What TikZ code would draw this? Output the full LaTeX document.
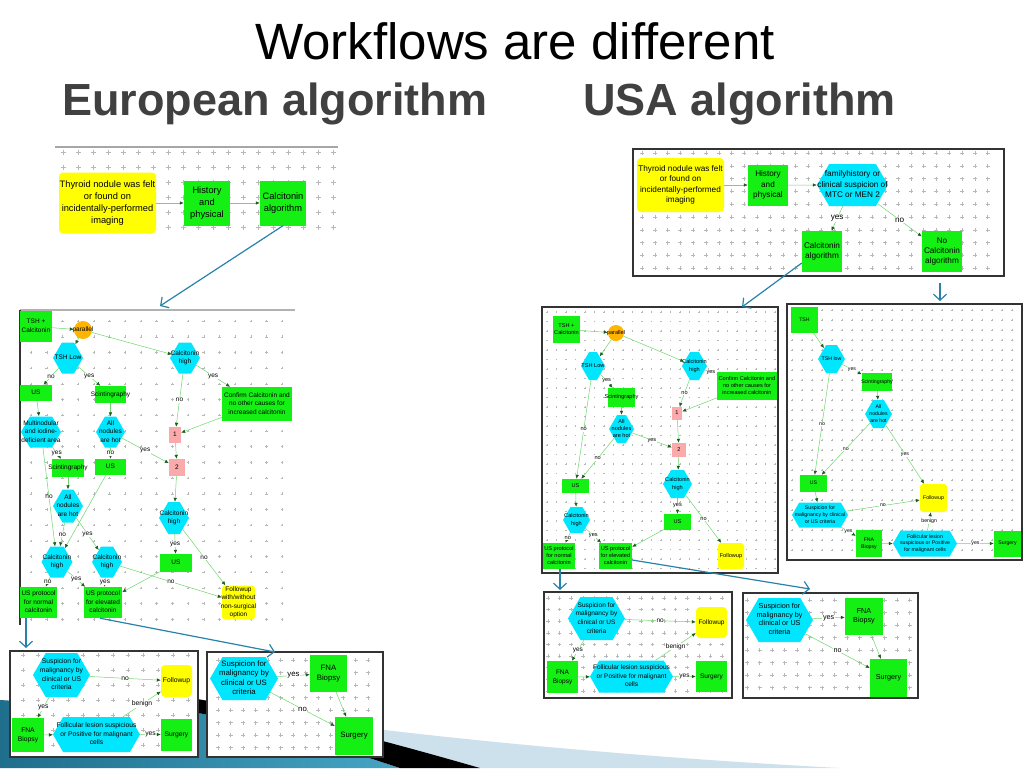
\documentclass[tikz,border=0pt]{standalone}
\usepackage{fontspec}
\setmainfont{Liberation Sans}
\usetikzlibrary{arrows.meta,shapes.symbols}

\definecolor{boxgreen}{RGB}{20,240,20}
\definecolor{boxyellow}{RGB}{255,255,0}
\definecolor{hexcyan}{RGB}{0,230,255}
\definecolor{pinkbox}{RGB}{250,170,170}
\definecolor{parorange}{RGB}{255,180,0}
\definecolor{flowgreen}{RGB}{110,215,110}
\definecolor{tipgreen}{RGB}{30,90,30}
\definecolor{linkblue}{RGB}{40,130,170}
\definecolor{subgray}{RGB}{64,64,64}
\definecolor{swteal}{RGB}{30,110,140}
\definecolor{swtealb}{RGB}{70,165,195}
\definecolor{swlight}{RGB}{205,225,236}

% text of a fixed-size node, may run over its edges
\newcommand{\ntext}[1]{\makebox[0pt]{\begin{tabular}{@{}c@{}}#1\end{tabular}}}
% light plus marks of the editor grid
\newcommand{\plusgrid}[6]{%
  \pgfmathtruncatemacro\gridnx{(#3-#1)/#5}%
  \pgfmathtruncatemacro\gridny{(#4-#2)/#5}%
  \foreach \i in {0,...,\gridnx}{\foreach \j in {0,...,\gridny}{%
    \draw[gridmark] ({#1+\i*#5-#6/2},{#2+\j*#5}) -- ++(#6,0)
      ({#1+\i*#5},{#2+\j*#5-#6/2}) -- ++(0,#6);}}}

\tikzset{
  wh/.style 2 args={minimum width=#1, minimum height=#2},
  gbox/.style={fill=boxgreen, inner sep=0},
  ybox/.style={fill=boxyellow, rounded corners=4, inner sep=0},
  hexa/.style={signal, signal to=east and west, signal pointer angle=120, fill=hexcyan, inner sep=0},
  pbox/.style={fill=pinkbox, inner sep=0},
  pcirc/.style={circle, fill=parorange, inner sep=0},
  flow/.style={draw=flowgreen, line width=0.5, -{Latex[length=4,width=3.5,color=tipgreen]}},
  lbl/.style={fill=white, inner sep=0.6},
  link/.style={draw=linkblue, line width=1.2, -{Straight Barb[length=6,width=13]}},
  frame/.style={draw=black!80, line width=1.4, fill=white},
  gridmark/.style={draw=black!28, line width=0.4},
  fA/.style={font=\fontsize{9.3}{12}\selectfont},
  fB/.style={font=\fontsize{6.5}{8.5}\selectfont},
  fC/.style={font=\fontsize{6.75}{8.7}\selectfont},
  fD/.style={font=\fontsize{7.8}{9.5}\selectfont},
  fE/.style={font=\fontsize{8.2}{10.3}\selectfont},
  fF/.style={font=\fontsize{5.6}{7.2}\selectfont},
  fG/.style={font=\fontsize{5.2}{6.7}\selectfont},
  fH/.style={font=\fontsize{6.5}{8.6}\selectfont},
  fI/.style={font=\fontsize{7.2}{8.5}\selectfont},
}

\begin{document}
\begin{tikzpicture}[x=1pt,y=-1pt]
  \useasboundingbox[fill=white] (0,0) rectangle (1024,768);

  % slide swoosh
  \fill[swlight] (290,718) .. controls (450,740) and (650,758) .. (840,768) -- (480,768)
    .. controls (400,745) and (330,728) .. (290,721) -- cycle;
  \shade[left color=swteal, right color=swtealb] (0,700) -- (185,711)
    .. controls (260,722) and (330,745) .. (400,768) -- (0,768) -- cycle;
  \fill[black] (185,697) .. controls (280,712) and (400,745) .. (480,768) -- (400,768)
    .. controls (330,745) and (260,722) .. (185,711) -- cycle;

  % titles
  \node[font=\fontsize{51}{60}\selectfont, inner sep=0] (title) at (515,41) {Workflows are different};
  \node[font=\fontsize{45}{54}\selectfont\bfseries, text=subgray, anchor=base west, inner sep=0] (eutitle) at (62,115) {European algorithm};
  \node[font=\fontsize{45}{54}\selectfont\bfseries, text=subgray, anchor=base west, inner sep=0] (ustitle) at (583,115) {USA algorithm};

  % panel frames and grids
  \draw[gray!70, line width=1.5] (55,147) -- (338,147);
  \plusgrid{63}{152}{338}{228}{15}{5}
  \plusgrid{31}{321}{295}{622}{15.7}{2.5}
  \draw[gray!60, line width=1.5] (20,310) -- (295,310);
  \draw[black!80, line width=1.2] (20,310) -- (20,625);
  \draw[frame] (10,651) rectangle (198,757);
  \plusgrid{23}{655}{196}{755}{15}{4}
  \draw[frame] (207,652) rectangle (383,757);
  \plusgrid{218}{660}{380}{755}{12.5}{4}
  \draw[frame] (633,149) rectangle (1004,276);
  \plusgrid{642}{153}{1000}{272}{12.8}{4}
  \draw[frame] (542,307) rectangle (778,573);
  \plusgrid{547}{312}{775}{570}{9.5}{1.5}
  \draw[frame] (787,304) rectangle (1022,560);
  \plusgrid{792}{310}{1020}{557}{10}{1.5}
  \draw[frame] (544,592) rectangle (732,698);
  \plusgrid{548}{598}{730}{695}{11.6}{3.5}
  \draw[frame] (743,593) rectangle (918,698);
  \plusgrid{747}{600}{915}{695}{12.5}{4}

  % European: start
  \begin{scope}[every node/.append style=fA]
    \node[ybox, wh={97}{61}] (yA) at (107.5,203) {\ntext{Thyroid nodule was felt\\or found on\\incidentally-performed\\imaging}};
    \node[gbox, wh={46}{45}] (hpA) at (207,203) {\ntext{History\\and\\physical}};
    \node[gbox, wh={46}{45}] (calA) at (283,203) {\ntext{Calcitonin\\algorithm}};
    \draw[flow] (yA) -- (hpA);
    \draw[flow] (hpA) -- (calA);
  \end{scope}

  % European: calcitonin algorithm
  \begin{scope}[every node/.append style=fB]
    \node[gbox, wh={32}{31}] (tcB) at (36,326.5) {\ntext{TSH +\\Calcitonin}};
    \node[pcirc, minimum size=18] (parB) at (83,330) {\ntext{parallel}};
    \node[hexa, wh={30}{31}] (tlB) at (68,358) {\ntext{TSH Low}};
    \node[hexa, wh={30}{31}] (chB) at (185,358) {\ntext{Calcitonin\\high}};
    \node[gbox, wh={32}{16}] (usB1) at (36,393) {\ntext{US}};
    \node[gbox, wh={31}{17}] (scB1) at (110.5,394.5) {\ntext{Scintingraphy}};
    \node[gbox, wh={70}{34}] (cfB) at (257,404) {\ntext{Confirm Calcitonin and\\no other causes for\\increased calcitonin}};
    \node[pbox, wh={12}{16}] (p1B) at (175,435) {\ntext{1}};
    \node[hexa, wh={40}{31}] (mnB) at (41,432) {\ntext{Multinodular\\and iodine-\\deficient area}};
    \node[hexa, wh={29}{31}] (anB1) at (110.5,432) {\ntext{All\\nodules\\are hot}};
    \node[pbox, wh={16}{17}] (p2B) at (177,467.5) {\ntext{2}};
    \node[gbox, wh={32}{18}] (scB2) at (68,468) {\ntext{Scintingraphy}};
    \node[gbox, wh={31}{16}] (usB2) at (110.5,467) {\ntext{US}};
    \node[hexa, wh={30}{33}] (anB2) at (68,506) {\ntext{All\\nodules\\are hot}};
    \node[hexa, wh={30}{32}] (chB2) at (174,518) {\ntext{Calcitonin\\high}};
    \node[hexa, wh={31}{31}] (chB3) at (57,562) {\ntext{Calcitonin\\high}};
    \node[hexa, wh={30}{31}] (chB4) at (107,562) {\ntext{Calcitonin\\high}};
    \node[gbox, wh={32}{18}] (usB3) at (176,563) {\ntext{US}};
    \node[ybox, rounded corners=3, wh={33}{33}] (fuB) at (238.5,602.5) {\ntext{Followup\\with/without\\non-surgical\\option}};
    \node[gbox, wh={37}{31}] (upnB) at (38.5,602.5) {\ntext{US protocol\\for normal\\calcitonin}};
    \node[gbox, wh={38}{31}] (upeB) at (103,602.5) {\ntext{US protocol\\for elevated\\calcitonin}};
    \draw[flow] (tcB) -- (parB);
    \draw[flow] (parB) -- (tlB);
    \draw[flow] (parB) -- (chB);
    \draw[flow] (tlB) -- node[lbl]{no} (usB1);
    \draw[flow] (tlB) -- node[lbl]{yes} (scB1);
    \draw[flow] (chB) -- node[lbl]{yes} (cfB);
    \draw[flow] (chB) -- node[lbl]{no} (p1B);
    \draw[flow] (cfB) -- (p1B);
    \draw[flow] (usB1) -- (mnB);
    \draw[flow] (scB1) -- (anB1);
    \draw[flow] (mnB) -- node[lbl]{yes} (scB2);
    \draw[flow] (anB1) -- node[lbl]{no} (usB2);
    \draw[flow] (anB1) -- node[lbl]{yes} (p2B);
    \draw[flow] (p1B) -- (p2B);
    \draw[flow] (mnB) -- node[lbl]{no} (chB3);
    \draw[flow] (scB2) -- (anB2);
    \draw[flow] (anB2) -- node[lbl]{no} (chB3);
    \draw[flow] (anB2) -- node[lbl]{yes} (chB4);
    \draw[flow] (usB2) -- (chB3);
    \draw[flow] (p2B) -- (chB2);
    \draw[flow] (chB2) -- node[lbl]{yes} (usB3);
    \draw[flow] (chB2) -- node[lbl]{no} (fuB);
    \draw[flow] (chB3) -- node[lbl]{no} (upnB);
    \draw[flow] (chB3) -- node[lbl]{yes} (upeB);
    \draw[flow] (chB4) -- node[lbl]{yes} (upeB);
    \draw[flow] (chB4) -- node[lbl]{no} (fuB);
    \draw[flow] (usB3) -- (upeB);
  \end{scope}

  % European: FNA, normal calcitonin
  \begin{scope}[every node/.append style=fC]
    \node[hexa, wh={57}{44}] (suC) at (61.5,675) {\ntext{Suspicion for\\malignancy by\\clinical or US\\criteria}};
    \node[ybox, wh={31}{32}] (fuC) at (176.5,681) {\ntext{Followup}};
    \node[gbox, wh={32}{34}] (fnC) at (28,735) {\ntext{FNA\\Biopsy}};
    \node[hexa, wh={87}{35}] (flC) at (96.5,734.5) {\ntext{Follicular lesion suspicious\\or Positive for malignant\\cells}};
    \node[gbox, wh={31}{32}] (sgC) at (176.5,734.5) {\ntext{Surgery}};
    \draw[flow] (suC) -- node[lbl]{no} (fuC);
    \draw[flow] (suC) -- node[lbl]{yes} (fnC);
    \draw[flow] (fnC) -- (flC);
    \draw[flow] (flC) -- node[lbl]{benign} (fuC);
    \draw[flow] (flC) -- node[lbl]{yes} (sgC);
  \end{scope}

  % European: FNA, elevated calcitonin
  \begin{scope}[every node/.append style=fD]
    \node[hexa, wh={68}{43}] (suD) at (244,678.5) {\ntext{Suspicion for\\malignancy by\\clinical or US\\criteria}};
    \node[gbox, wh={37}{37}] (fnD) at (328.5,673.5) {\ntext{FNA\\Biopsy}};
    \node[gbox, wh={38}{38}] (sgD) at (354,736) {\ntext{Surgery}};
    \draw[flow] (suD) -- node[lbl]{yes} (fnD);
    \draw[flow] (suD) -- node[lbl]{no} (sgD);
    \draw[flow] (fnD) -- (sgD);
  \end{scope}

  % USA: start
  \begin{scope}[every node/.append style=fE]
    \node[ybox, wh={87}{54}] (yE) at (680.5,185) {\ntext{Thyroid nodule was felt\\or found on\\incidentally-performed\\imaging}};
    \node[gbox, wh={40}{41}] (hpE) at (768,185) {\ntext{History\\and\\physical}};
    \node[hexa, wh={71}{42}] (fhE) at (852.5,185) {\ntext{familyhistory or\\clinical suspicion of\\MTC or MEN 2}};
    \node[gbox, wh={40}{41}] (calE) at (822,251.5) {\ntext{Calcitonin\\algorithm}};
    \node[gbox, wh={40}{41}] (nocE) at (942,251.5) {\ntext{No\\Calcitonin\\algorithm}};
    \draw[flow] (yE) -- (hpE);
    \draw[flow] (hpE) -- (fhE);
    \draw[flow] (fhE) -- node[lbl]{yes} (calE);
    \draw[flow] (fhE) -- node[lbl]{no} (nocE);
  \end{scope}

  % USA: calcitonin algorithm
  \begin{scope}[every node/.append style=fF]
    \node[gbox, wh={27}{27}] (tcF) at (566.5,329.5) {\ntext{TSH +\\Calcitonin}};
    \node[pcirc, minimum size=16] (parF) at (616,333) {\ntext{parallel}};
    \node[hexa, wh={24}{28}] (tlF) at (593,366) {\ntext{TSH Low}};
    \node[hexa, wh={25}{28}] (chF) at (694.5,366) {\ntext{Calcitonin\\high}};
    \node[gbox, wh={60}{28}] (cfF) at (747,386) {\ntext{Confirm Calcitonin and\\no other causes for\\increased calcitonin}};
    \node[gbox, wh={27}{19}] (scF) at (621.5,397.5) {\ntext{Scintingraphy}};
    \node[pbox, wh={10}{13}] (p1F) at (677,413.5) {\ntext{1}};
    \node[hexa, wh={25}{28}] (anF) at (621.5,429) {\ntext{All\\nodules\\are hot}};
    \node[pbox, wh={14}{14}] (p2F) at (679,450) {\ntext{2}};
    \node[gbox, wh={27}{14}] (usF1) at (575.5,486) {\ntext{US}};
    \node[hexa, wh={29}{28}] (chF2) at (677.5,484) {\ntext{Calcitonin\\high}};
    \node[gbox, wh={27}{16}] (usF2) at (677.5,522) {\ntext{US}};
    \node[hexa, wh={27}{26}] (chF3) at (576.5,520) {\ntext{Calcitonin\\high}};
    \node[gbox, wh={32}{26}] (upnF) at (559,556) {\ntext{US protocol\\for normal\\calcitonin}};
    \node[gbox, wh={33}{26}] (upeF) at (615.5,556) {\ntext{US protocol\\for elevated\\calcitonin}};
    \node[ybox, rounded corners=3, wh={26}{26}] (fuF) at (731,556) {\ntext{Followup}};
    \draw[flow] (tcF) -- (parF);
    \draw[flow] (parF) -- (tlF);
    \draw[flow] (parF) -- (chF);
    \draw[flow] (chF) -- node[lbl]{yes} (cfF);
    \draw[flow] (chF) -- node[lbl]{no} (p1F);
    \draw[flow] (cfF) -- (p1F);
    \draw[flow] (tlF) -- node[lbl]{yes} (scF);
    \draw[flow] (tlF) -- node[lbl]{no} (usF1);
    \draw[flow] (scF) -- (anF);
    \draw[flow] (anF) -- node[lbl]{yes} (p2F);
    \draw[flow] (anF) -- node[lbl]{no} (usF1);
    \draw[flow] (p1F) -- (p2F);
    \draw[flow] (p2F) -- (chF2);
    \draw[flow] (chF2) -- node[lbl]{yes} (usF2);
    \draw[flow] (chF2) -- node[lbl]{no} (fuF);
    \draw[flow] (usF2) -- (upeF);
    \draw[flow] (usF1) -- (chF3);
    \draw[flow] (chF3) -- node[lbl]{no} (upnF);
    \draw[flow] (chF3) -- node[lbl]{yes} (upeF);
  \end{scope}

  % USA: no calcitonin algorithm
  \begin{scope}[every node/.append style=fG]
    \node[gbox, wh={27}{26}] (tsG) at (804.5,320) {\ntext{TSH}};
    \node[hexa, wh={27}{28}] (tlG) at (831.5,359) {\ntext{TSH low}};
    \node[gbox, wh={30}{18}] (scG) at (877,382) {\ntext{Scintingraphy}};
    \node[hexa, wh={27}{28}] (anG) at (878.5,414) {\ntext{All\\nodules\\are hot}};
    \node[gbox, wh={27}{17}] (usG) at (813.5,483.5) {\ntext{US}};
    \node[ybox, rounded corners=3, wh={27}{28}] (fuG) at (933.5,498) {\ntext{Followup}};
    \node[hexa, wh={56}{25}] (suG) at (820,515) {\ntext{Suspicion for\\malignancy by clinical\\or US criteria}};
    \node[gbox, wh={26}{27}] (fnG) at (869,543.5) {\ntext{FNA\\Biopsy}};
    \node[hexa, wh={64}{26}] (flG) at (925,543.5) {\ntext{Follicular lesion\\suspicious or Positive\\for malignant cells}};
    \node[gbox, wh={27}{26}] (sgG) at (1007.5,543.5) {\ntext{Surgery}};
    \draw[flow] (tsG) -- (tlG);
    \draw[flow] (tlG) -- node[lbl]{yes} (scG);
    \draw[flow] (tlG) -- node[lbl]{no} (usG);
    \draw[flow] (scG) -- (anG);
    \draw[flow] (anG) -- node[lbl]{no} (usG);
    \draw[flow] (anG) -- node[lbl]{yes} (fuG);
    \draw[flow] (usG) -- (suG);
    \draw[flow] (suG) -- node[lbl]{no} (fuG);
    \draw[flow] (suG) -- node[lbl]{yes} (fnG);
    \draw[flow] (fnG) -- (flG);
    \draw[flow] (flG) -- node[lbl]{benign} (fuG);
    \draw[flow] (flG) -- node[lbl]{yes} (sgG);
  \end{scope}

  % USA: FNA, normal calcitonin
  \begin{scope}[every node/.append style=fH]
    \node[hexa, wh={57}{43}] (suH) at (596.5,618.5) {\ntext{Suspicion for\\malignancy by\\clinical or US\\criteria}};
    \node[ybox, wh={31}{31}] (fuH) at (711.5,622.5) {\ntext{Followup}};
    \node[gbox, wh={31}{32}] (fnH) at (562.5,677) {\ntext{FNA\\Biopsy}};
    \node[hexa, wh={83}{32}] (flH) at (631.5,676.5) {\ntext{Follicular lesion suspicious\\or Positive for malignant\\cells}};
    \node[gbox, wh={31}{31}] (sgH) at (711.5,676.5) {\ntext{Surgery}};
    \draw[flow] (suH) -- node[lbl]{no} (fuH);
    \draw[flow] (suH) -- node[lbl]{yes} (fnH);
    \draw[flow] (fnH) -- (flH);
    \draw[flow] (flH) -- node[lbl]{benign} (fuH);
    \draw[flow] (flH) -- node[lbl]{yes} (sgH);
  \end{scope}

  % USA: FNA, elevated calcitonin
  \begin{scope}[every node/.append style=fI]
    \node[hexa, wh={67}{44}] (suI) at (779.5,620) {\ntext{Suspicion for\\malignancy by\\clinical or US\\criteria}};
    \node[gbox, wh={38}{37}] (fnI) at (864,616.5) {\ntext{FNA\\Biopsy}};
    \node[gbox, wh={37}{38}] (sgI) at (888.5,678) {\ntext{Surgery}};
    \draw[flow] (suI) -- node[lbl]{yes} (fnI);
    \draw[flow] (suI) -- node[lbl]{no} (sgI);
    \draw[flow] (fnI) -- (sgI);
  \end{scope}

  % links between the panels
  \coordinate (inB) at (160,306);
  \coordinate (inC) at (26,648);
  \coordinate (inD) at (275,652);
  \coordinate (inF) at (742,307);
  \coordinate (inG) at (940,301);
  \coordinate (inH) at (560,590);
  \coordinate (inI) at (810,589);
  \draw[link] (calA.south) -- (inB);
  \draw[link] ([xshift=-12.5]upnB.south) -- (inC);
  \draw[link] ([xshift=-3]upeB.south) -- (inD);
  \draw[link] ([yshift=-11.5]calE.west) -- (inF);
  \draw[link] ([xshift=-2,yshift=-11]nocE.south) -- (inG);
  \draw[link] ([xshift=1]upnF.south) -- (inH);
  \draw[link] ([yshift=-4]upeF.east) -- (inI);
\end{tikzpicture}
\end{document}
